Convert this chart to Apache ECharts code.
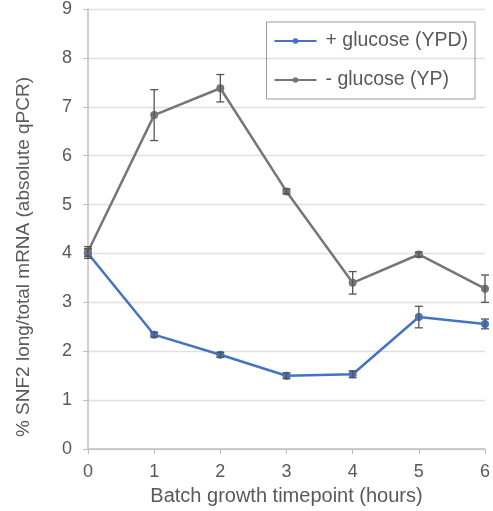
<!DOCTYPE html>
<html>
<head>
<meta charset="UTF-8">
<title>SNF2 long/total mRNA</title>
<script src="https://cdn.jsdelivr.net/npm/echarts@6/dist/echarts.min.js"></script>
<style>
  * { margin: 0; padding: 0; }
  html, body { width: 493px; height: 511px; background: #fff; overflow: hidden; }
  #chart { width: 493px; height: 511px; }
</style>
</head>
<body>
<div id="chart"></div>
<script>
// timepoints (hours)
const hours = [0, 1, 2, 3, 4, 5, 6];
// + glucose (YPD)
const ypd = [4.0, 2.34, 1.93, 1.5, 1.53, 2.7, 2.56];
const ypdErr = [0.1, 0.05, 0.05, 0.06, 0.07, 0.22, 0.1];
// - glucose (YP)
const yp = [4.04, 6.83, 7.38, 5.27, 3.4, 3.98, 3.28];
const ypErr = [0.1, 0.52, 0.28, 0.05, 0.23, 0.05, 0.28];
const yTicks = [0, 1, 2, 3, 4, 5, 6, 7, 8, 9];

const blue = '#4472c4';
const gray = '#767676';

function pts(vals) { return hours.map((h, i) => [h, vals[i]]); }
function errData(vals, errs) { return hours.map((h, i) => [h, vals[i] - errs[i], vals[i] + errs[i]]); }

function errorBars(color) {
  return function (params, api) {
    const lo = api.coord([api.value(0), api.value(1)]);
    const hi = api.coord([api.value(0), api.value(2)]);
    const w = 4;
    const style = { stroke: color, lineWidth: 1.3 };
    return {
      type: 'group',
      children: [
        { type: 'line', shape: { x1: hi[0], y1: hi[1], x2: lo[0], y2: lo[1] }, style: style },
        { type: 'line', shape: { x1: hi[0] - w, y1: hi[1], x2: hi[0] + w, y2: hi[1] }, style: style },
        { type: 'line', shape: { x1: lo[0] - w, y1: lo[1], x2: lo[0] + w, y2: lo[1] }, style: style }
      ]
    };
  };
}

const chart = echarts.init(document.getElementById('chart'));
chart.setOption({
  animation: false,
  textStyle: { fontFamily: 'Liberation Sans, Arial, sans-serif' },
  grid: { left: 88, right: 6, top: 9, bottom: 59 },
  legend: {
    right: 18, top: 22,
    orient: 'vertical',
    itemGap: 19,
    itemWidth: 42,
    itemHeight: 7,
    padding: [9, 7, 9, 7],
    borderColor: '#9a9a9a',
    borderWidth: 1,
    textStyle: { fontSize: 19.5, color: '#595959', padding: [0, 0, 0, 4] },
    data: ['+ glucose (YPD)', '- glucose (YP)']
  },
  xAxis: {
    type: 'value', min: 0, max: 6, interval: 1,
    name: 'Batch growth timepoint (hours)',
    nameLocation: 'middle', nameGap: 32,
    nameTextStyle: { fontSize: 20, color: '#595959' },
    axisLine: { lineStyle: { color: '#bfbfbf', width: 1.5 } },
    axisTick: { show: true, length: 5, lineStyle: { color: '#bfbfbf' } },
    axisLabel: { fontSize: 18, color: '#595959', margin: 14 },
    splitLine: { show: false }
  },
  yAxis: {
    type: 'value', min: yTicks[0], max: yTicks[yTicks.length - 1], interval: 1,
    name: '% SNF2 long/total mRNA (absolute qPCR)',
    nameLocation: 'middle', nameGap: 55,
    nameTextStyle: { fontSize: 19, color: '#595959', padding: [0, 56, 0, 0] },
    axisLine: { show: true, lineStyle: { color: '#bfbfbf', width: 1.5 } },
    axisTick: { show: true, length: 5, lineStyle: { color: '#bfbfbf' } },
    axisLabel: { fontSize: 18, color: '#595959', margin: 16 },
    splitLine: { lineStyle: { color: '#e0e0e0', width: 1.3 } }
  },
  series: [
    {
      name: '+ glucose (YPD)', type: 'line', data: pts(ypd),
      symbol: 'circle', symbolSize: 8,
      lineStyle: { color: blue, width: 2.5 },
      itemStyle: { color: blue }, z: 3
    },
    {
      name: '- glucose (YP)', type: 'line', data: pts(yp),
      symbol: 'circle', symbolSize: 8,
      lineStyle: { color: gray, width: 2.5 },
      itemStyle: { color: gray }, z: 4
    },
    {
      type: 'custom', renderItem: errorBars('#555'), data: errData(ypd, ypdErr),
      encode: { x: 0, y: [1, 2] }, z: 5, silent: true
    },
    {
      type: 'custom', renderItem: errorBars('#555'), data: errData(yp, ypErr),
      encode: { x: 0, y: [1, 2] }, z: 6, silent: true
    }
  ]
});
</script>
</body>
</html>
